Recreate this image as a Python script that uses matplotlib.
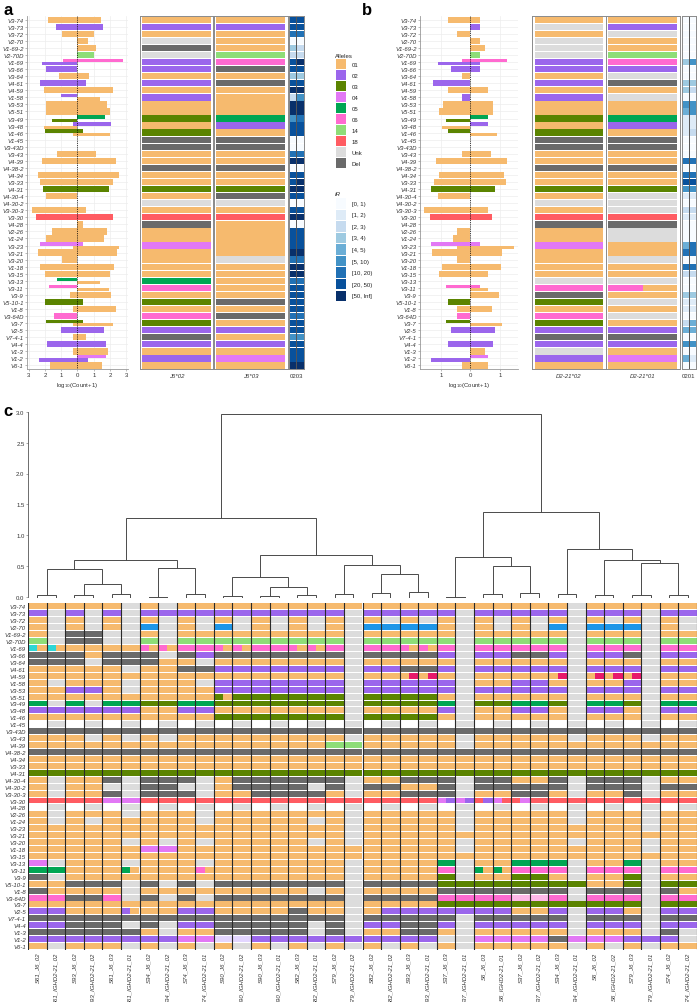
import matplotlib
matplotlib.use("Agg")
import matplotlib.pyplot as plt
from matplotlib.patches import Rectangle

plt.rcParams['font.family'] = ['Liberation Sans', 'DejaVu Sans']

W, H = 697, 1003
fig = plt.figure(figsize=(W / 100, H / 100), dpi=100)


def px_axes(x0, y0, x1, y1):
    return fig.add_axes([x0 / W, 1 - y1 / H, (x1 - x0) / W, (y1 - y0) / H])


genes = ["V3-74", "V3-73", "V3-72", "V2-70", "V1-69-2", "V2-70D", "V1-69", "V3-66", "V3-64", "V4-61",
         "V4-59", "V1-58", "V3-53", "V5-51", "V3-49", "V3-48", "V1-46", "V1-45", "V3-43D", "V3-43",
         "V4-39", "V4-38-2", "V4-34", "V3-33", "V4-31", "V4-30-4", "V4-30-2", "V3-30-3", "V3-30", "V4-28",
         "V2-26", "V1-24", "V3-23", "V3-21", "V3-20", "V1-18", "V3-15", "V3-13", "V3-11", "V3-9",
         "V5-10-1", "V1-8", "V3-64D", "V3-7", "V2-5", "V7-4-1", "V4-4", "V1-3", "V1-2", "V6-1"]

allele_names = ["01", "02", "03", "04", "05", "06", "14", "18", "Unk", "Del"]
allele_colors = ["#F6BA6E", "#9B66EC", "#5B8400", "#E278F5", "#00A653", "#FF6AD0", "#8EDD78", "#FF5C62",
                 "#DCDCDC", "#6A6A6A"]
code_allele = {"o": "01", "p": "02", "g": "03", "v": "04", "e": "05", "k": "06", "l": "14", "r": "18",
               "u": "Unk", "d": "Del"}
extra_colors = {"w": "#FFFFFF", "c": "#2ED6D6", "b": "#1E96E8", "m": "#E8196B", "f": "#E3D6FF",
                "q": "#FFB8E8"}

ir_labels = ["[0, 1)", "[1, 2)", "[2, 3)", "[3, 4)", "[4, 5)", "[5, 10)", "[10, 20)", "[20, 50)", "[50, Inf]"]
ir_colors = ["#F7FBFF", "#DEEBF7", "#C6DBEF", "#9ECAE1", "#6BAED6", "#4292C6", "#2171B5", "#08519C", "#08306B"]

# ---------------- panel a data ----------------
a_bars = {
    "V3-74": [("01", 1.8, 1.47)], "V3-73": [("02", 1.29, 1.56)], "V3-72": [("01", 0.93, 1.02)],
    "V2-70": [("01", 0, 0.62)], "V1-69-2": [("01", 0, 1.14)], "V2-70D": [("14", 0, 1.02)],
    "V1-69": [("06", 0.87, 2.78), ("02", 2.16, 0)], "V3-66": [("02", 1.95, 0)],
    "V3-64": [("01", 1.14, 0.73)], "V4-61": [("02", 2.28, 0.52)], "V4-59": [("01", 2.03, 2.16)],
    "V1-58": [("02", 1.02, 0), ("01", 0, 1.41)], "V3-53": [("01", 1.91, 1.83)], "V5-51": [("01", 1.91, 1.99)],
    "V3-49": [("05", 0, 1.68), ("03", 1.56, 0)], "V3-48": [("02", 0.27, 2.03), ("01", 2.03, 0)],
    "V1-46": [("03", 1.99, 0.31), ("01", 0.27, 1.99)], "V3-43": [("01", 1.24, 1.16)],
    "V4-39": [("01", 2.2, 2.34)], "V4-34": [("01", 2.41, 2.57)], "V3-33": [("01", 2.3, 2.2)],
    "V4-31": [("03", 2.14, 1.91)], "V4-30-4": [("01", 1.95, 0)], "V3-30-3": [("01", 2.8, 0.5)],
    "V3-30": [("18", 2.53, 2.16)], "V4-28": [("01", 0, 0.31)], "V2-26": [("01", 1.56, 1.83)],
    "V1-24": [("01", 1.91, 1.62)], "V3-23": [("04", 2.3, 0.31), ("01", 0.27, 2.55)],
    "V3-21": [("01", 2.43, 2.45)], "V3-20": [("01", 0.93, 0)], "V1-18": [("01", 2.28, 2.24)],
    "V3-15": [("01", 1.97, 1.99)], "V3-13": [("05", 1.24, 0), ("01", 0, 1.41)],
    "V3-11": [("06", 1.74, 0), ("01", 0, 1.95)], "V3-9": [("01", 0.46, 2.07)],
    "V5-10-1": [("03", 1.97, 0.31)], "V1-8": [("01", 0.27, 2.34)], "V3-64D": [("06", 1.45, 0)],
    "V3-7": [("03", 1.95, 0.31), ("01", 0.27, 2.16)], "V2-5": [("02", 1.04, 1.62)],
    "V7-4-1": [("01", 0.27, 0.5)], "V4-4": [("02", 1.85, 1.78)], "V1-3": [("01", 0.27, 1.89)],
    "V1-2": [("04", 0, 1.72), ("02", 2.39, 0.62)], "V6-1": [("01", 1.7, 1.51)],
}
a_hap_names = ["J6*02", "J6*03"]
a_hap1 = "o p o u d u p p o p o p o o g o g d d o o d o o g o u o r d o o v o o o o e k o g o k g p d p o p o".split()
a_hap2 = "o p o o o l k d o d o o o o e p o d d o o d o o g d u o r o o o o o u o o o o o d o d o p o p o v o".split()
a_ir_name = "0203"
a_ir1 = [7, 7, 6, 0, 3, 2, 7, 7, 3, 7, 8, 2, 8, 8, 5, 7, 7, 0, 0, 6, 8, 0, 7, 7, 8,
         7, 0, 7, 8, 0, 7, 7, 7, 8, 6, 8, 8, 6, 7, 7, 7, 7, 6, 7, 7, 5, 7, 7, 7, 8]
a_ir2 = [7, 7, 6, 0, 2, 2, 8, 7, 3, 7, 8, 5, 8, 8, 6, 7, 7, 0, 0, 6, 8, 0, 7, 8, 8,
         7, 0, 7, 8, 0, 7, 7, 7, 8, 6, 8, 8, 6, 7, 7, 7, 7, 6, 7, 7, 5, 7, 7, 7, 8]

# ---------------- panel b data ----------------
b_bars = {
    "V3-74": [("01", 0.76, 0.31)], "V3-73": [("02", 0, 0.31)], "V3-72": [("01", 0.45, 0)],
    "V2-70": [("01", 0, 0.31)], "V1-69-2": [("01", 0, 0.48)], "V2-70D": [("14", 0, 0.31)],
    "V1-69": [("06", 0.28, 1.24), ("02", 1.09, 0.31)], "V3-66": [("02", 0.68, 0.31)],
    "V3-64": [("01", 0.28, 0)], "V4-61": [("02", 1.27, 0)], "V4-59": [("01", 0.76, 0.61)],
    "V1-58": [("02", 0.28, 0)], "V3-53": [("01", 0.93, 0.78)], "V5-51": [("01", 1.06, 0.78)],
    "V3-49": [("05", 0, 0.61), ("03", 0.83, 0)], "V3-48": [("02", 0, 0.61), ("01", 0.97, 0)],
    "V1-46": [("03", 0.76, 0), ("01", 0, 0.91)], "V3-43": [("01", 0.28, 0.7)],
    "V4-39": [("01", 1.16, 1.26)], "V4-34": [("01", 1.06, 1.15)], "V3-33": [("01", 1.24, 1.22)],
    "V4-31": [("03", 1.33, 0.85)], "V4-30-4": [("01", 1.09, 0)], "V3-30-3": [("01", 1.57, 0.61)],
    "V3-30": [("18", 1.39, 0.72)], "V2-26": [("01", 0.47, 0)], "V1-24": [("01", 0.58, 0)],
    "V3-23": [("04", 1.34, 0.31), ("01", 0.47, 1.49)], "V3-21": [("01", 1.32, 1.09)],
    "V3-20": [("01", 0.47, 0)], "V1-18": [("01", 0.98, 1.05)], "V3-15": [("01", 1.06, 0.61)],
    "V3-11": [("06", 0.83, 0.31), ("01", 0, 0.61)], "V3-9": [("01", 0, 0.97)],
    "V5-10-1": [("03", 0.76, 0)], "V1-8": [("01", 0.47, 0.72)], "V3-64D": [("06", 0.47, 0)],
    "V3-7": [("03", 0.83, 0), ("01", 0, 1.09)], "V2-5": [("02", 0.68, 0.85)],
    "V4-4": [("02", 0.76, 0.78)], "V1-3": [("01", 0, 0.48)],
    "V1-2": [("04", 0, 0.61), ("02", 1.33, 0)], "V6-1": [("01", 0.28, 0.61)],
}
b_hap_names = ["D2-21*02", "D2-21*01"]
b_hap1 = "o u o u u u p p o p o p o o g o g d d o o d o o g o u o r d o o v o o o o u k d g o k g p d p u p o".split()
b_hap2 = "o p u o o l k p u d o u o o e p o d d o o d o o g u u u r d u u o o u o o u k/o o u o u o p d p o v o".split()
b_ir_name = "0201"
b_ir1 = [0, 0, 0, 0, 0, 0, 3, 0, 0, 3, 3, 0, 5, 4, 1, 1, 1, 0, 0, 0, 6, 0, 6, 7, 5,
         1, 0, 2, 1, 0, 0, 0, 4, 6, 0, 6, 2, 0, 0, 3, 1, 1, 0, 2, 4, 0, 5, 0, 4, 0]
b_ir2 = [0, 0, 0, 0, 0, 0, 5, 0, 0, 3, 2, 0, 5, 5, 1, 1, 2, 0, 0, 0, 6, 0, 6, 7, 5,
         1, 0, 2, 1, 0, 0, 0, 6, 6, 0, 6, 2, 0, 0, 3, 1, 1, 0, 4, 4, 0, 5, 0, 1, 0]

# ---------------- panel c data ----------------
c_samples = ["S61_J6_02", "S61_IGHD2-21_02", "S93_J6_02", "S93_IGHD2-21_02", "S61_J6_03", "S61_IGHD2-21_01",
             "S34_J6_02", "S34_IGHD2-21_02", "S74_J6_03", "S74_IGHD2-21_01", "S90_J6_02", "S90_IGHD2-21_02",
             "S90_J6_03", "S90_IGHD2-21_01", "S82_J6_03", "S82_IGHD2-21_01", "S79_J6_02", "S79_IGHD2-21_02",
             "S82_J6_02", "S82_IGHD2-21_02", "S93_J6_03", "S93_IGHD2-21_01", "S37_J6_03", "S37_IGHD2-21_01",
             "S6_J6_03", "S6_IGHD2-21_01", "S37_J6_02", "S37_IGHD2-21_02", "S34_J6_03", "S34_IGHD2-21_01",
             "S6_J6_02", "S6_IGHD2-21_02", "S79_J6_03", "S79_IGHD2-21_01", "S74_J6_02", "S74_IGHD2-21_02"]
# one string per gene: columns 1-11 | columns 12-36
c_rows_left = [
    "o o o o o u o u o o o",
    "p u p u p u p p p p p",
    "o u o u o u o u o u o",
    "o u o u o u b u o u b",
    "o u d d u u o u o o o",
    "l u d d u u l u l l l",
    "c/o c/o o o o o k/o k/o k k k/o",
    "d d d o d d d u d p d",
    "d d d u d d d o o u o",
    "o o o o o u o o d d p",
    "o o o o o o o o o o o",
    "o u o o o u o o o u p",
    "o o p p o u o o o o p",
    "o o o o o o o o o o g/o",
    "e u e u e e g g e e g",
    "p p p p p p o o p p o",
    "o o o o o o o o o o g",
    "w u w u w u w u w u w",
    "d d d d d d d d d d d",
    "o o o u o u o u o o o",
    "o o o o o o o o o o o",
    "d d d d d d d d d d d",
    "o o o o o o o o o o o",
    "o o o o o o o o o o o",
    "g g g g g g g g g g g",
    "o u o o d u d d d u o",
    "o u o o u u d d u u o",
    "o u o o d u d d d u o",
    "r r r r v v r r r r r",
    "w u w u w u w u w u w",
    "o u o o o u o o o u o",
    "o u o u o o o o o u o",
    "o o o o o o o o o o o",
    "o o o o o o o o o o o",
    "o o o o o u o u o u o",
    "o o o o o o v v o o o",
    "o o o o o o o o o o o",
    "v u o o o u o o o u o",
    "e e o o o e/o o o o k/o o",
    "d u o o o o o o o o o",
    "o o d d d u d u d u d",
    "d o o o o u o o o o o",
    "k k d d k u d u d u d",
    "o o o o o o o o o o o",
    "p p o o o p/o o o p p o",
    "d d d d d d d d d d d",
    "p p d d d u d u p p d",
    "d d d d d d o u o o d",
    "p p p p p p p p v v f",
    "o u o o o u o u o u o",
]
c_rows_right = [
    "o o o o o o o o o o o o o o o o o o u o o o o o o",
    "p p p p p p u p p p p p u p p p p p u p p p u p p",
    "u o u o u o u o u o u o u o u o u o u o u o u o u",
    "u o u o u o u b b b b o u o u o u b u b b b u o u",
    "o o o o o o u o o o o o u o o o o o u o o o u o o",
    "l l l l l l u l l l l l u l l l l l u l l l u l l",
    "k/o k k k/o k/o k u k k k/o k/o k u k k k k k u k k k u k k",
    "d d d d d d u d d d d p u p p d d p u p p d u p p",
    "o o o o o o u o o o o o u o o o o o u o o o u o o",
    "p p p p p p u p p d d p u p p p p p u p p p u p p",
    "o o o o o o u o o o/m o/m o u o o o o o/m u o/m o/m o/m u o o",
    "p p p p p p u p p p p p u o o p p o u o o p u o o",
    "p p p p p p u p p p p p u p p p p p u p p p u p p",
    "g g g g g g u g g g g o u o o o o o u o o o u o o",
    "g g g g g g u g g g g e u g g e e g u e e g u e e",
    "o o o o o o u o o o o p u o o p p o u p p o u p p",
    "g g g g g g u g g g g o u o o o o o u o o o u o o",
    "u w u w u w u w u w u w u w u w u w u w u w u w u",
    "d d d d d d d d d d d d d d d d d d d d d d d d d",
    "o o o o o o u o o o o o u o o o o o u o o o u o o",
    "o o o o o l l o o o o o u o o o o o o o o o o o o",
    "d d d d d d d d d d d d d d d d d d d d d d d d d",
    "o o o o o o o o o o o o o o o o o o o o o o o o o",
    "o o o o o o o o o o o o o o o o o o o o o o o o o",
    "g g g g g g g g g g g g g g g g g g g g g g g g g",
    "d d d d d d u o o d d d u d d o o d u d d d u o o",
    "d d d d u d u d d o o d u d d d d d u d d d u d d",
    "o d d d d o u o o d d d u o o d d o u o o d u o o",
    "r r r r r r r r r r r v/p v/p r/p v/r r/v r r r r r r r r r",
    "u w u w u w u w u w u w u w u w u w u w u w u w u",
    "o o o o o o u o o o o o u o o o o o u o o o u o o",
    "o o o o u o u o o o o o u o o o o o u o o o u o o",
    "o o o o o o u o o o o o u o o o o o o o o o u o o",
    "o o o o o o u o o o o o o o o o o o o o o o o o o",
    "o o o o u o u o o o o o u o o o o o u o o o u o o",
    "o o o o o o o o o o o o u o o o o o o o o o u o o",
    "o o o o o o o o o o o o o o o o o o o o o o o o o",
    "o o o o o o u o o o o e u o o e e e u o o e u o o",
    "o o o o o o u o o o o k u e/o e/o k k k u k k k u k k",
    "o o o o o o u o o o o g u o o g g o u o o g u o o",
    "d d d d d d u d d d d g g g g g g g g o o g u g g",
    "o o o o u o u o o o o d d d d d d d u d d d u d o",
    "d d d d d d u d d d d k k k k q q k u k k k u k k",
    "o o o o o o u o o o o g g g g g g g g g g g u g g",
    "o o o d o o u o p p p p p p p o o p u p p o u p p",
    "d d d d d d u d d d d d u d d d d d u d d d u d d",
    "d d d d u d u p p d d p u p p p p p u p p p u p p",
    "d d d d u d u o o d d o u o o o o o u o o o u d u",
    "f p p p p p p p p p p u u v v v v d v v v p p p u",
    "u o u o u o u o u o u o u o o o o o u o u o u o o",
]
c_merges = [(0, 1, 0.03), (2, 3, 0.03), (4, 5, 0.04), (37, 38, 0.2), (36, 39, 0.44), (6, 7, 0.0),
            (8, 9, 0.04), (41, 42, 0.47), (40, 43, 0.59), (10, 11, 0.01), (12, 13, 0.015), (14, 15, 0.03),
            (46, 47, 0.16), (45, 48, 0.32), (16, 17, 0.04), (18, 19, 0.06), (20, 21, 0.075), (51, 52, 0.37),
            (50, 53, 0.51), (49, 54, 0.68), (44, 55, 1.28), (22, 23, 0.0), (24, 25, 0.04), (26, 27, 0.05),
            (58, 59, 0.49), (57, 60, 0.65), (28, 29, 0.04), (30, 31, 0.02), (32, 33, 0.02), (34, 35, 0.03),
            (64, 65, 0.55), (63, 66, 0.59), (62, 67, 0.77), (61, 68, 1.38), (56, 69, 2.97)]

FS = 4.3
allele_map = dict(zip(allele_names, allele_colors))


def code_color(code):
    if code in code_allele:
        return allele_map[code_allele[code]]
    return extra_colors[code]


def bar_panel(ax, bars, xlim, ticks):
    n = len(genes)
    ax.set_xlim(*xlim)
    ax.set_ylim(n + 0.5, 0.5)
    for i in range(1, n + 1):
        ax.axhline(i, color="#EDEDED", lw=0.5, zorder=0)
    for t in ticks:
        ax.axvline(t, color="#EDEDED", lw=0.5, zorder=0)
    for i, g in enumerate(genes):
        entries = bars.get(g, [])
        y = i + 1
        if len(entries) == 1:
            al, L, R = entries[0]
            ax.barh(y, L + R, left=-L, height=0.9, color=allele_map[al], lw=0, zorder=2)
        elif len(entries) == 2:
            for k, (al, L, R) in enumerate(entries):
                ax.barh(y - 0.225 + 0.45 * k, L + R, left=-L, height=0.45, color=allele_map[al], lw=0,
                        zorder=2)
    ax.axvline(0, color="black", lw=0.6, ls=(0, (1, 1.2)), zorder=3)
    ax.set_yticks(range(1, n + 1))
    ax.set_yticklabels(genes, fontsize=FS, style="italic", color="#333333")
    ax.set_xticks(ticks)
    ax.set_xticklabels([str(abs(t)) for t in ticks], fontsize=FS, color="#333333")
    ax.tick_params(length=1.5, width=0.4, color="#888888", pad=1)
    for s in ["top", "right"]:
        ax.spines[s].set_visible(False)
    for s in ["left", "bottom"]:
        ax.spines[s].set_color("#999999")
        ax.spines[s].set_linewidth(0.6)
    ax.set_xlabel("log$_{10}$(Count+1)", fontsize=FS, labelpad=1.5, color="#333333")


def hap_panel(x0, x1, y0, y1, col, name):
    ax = px_axes(x0, y0, x1, y1)
    n = len(genes)
    ax.set_xlim(0, 1)
    ax.set_ylim(n + 0.5, 0.5)
    for i, code in enumerate(col):
        parts = code.split("/")
        w = 0.92 / len(parts)
        for k, p in enumerate(parts):
            ax.add_patch(Rectangle((0.04 + k * w, i + 1 - 0.45), w, 0.9, color=code_color(p), lw=0))
    ax.set_xticks([0.5])
    ax.set_xticklabels([name], fontsize=FS, style="italic", color="#333333")
    ax.set_yticks([])
    ax.tick_params(length=0, pad=3)
    for s in ax.spines.values():
        s.set_color("#8A8A8A")
        s.set_linewidth(0.7)
    return ax


def ir_panel(x0, x1, y0, y1, c1, c2, name):
    ax = px_axes(x0, y0, x1, y1)
    n = len(genes)
    ax.set_xlim(0, 2)
    ax.set_ylim(n + 0.5, 0.5)
    for i in range(n):
        ax.add_patch(Rectangle((0, i + 1 - 0.45), 1, 0.9, color=ir_colors[c1[i]], lw=0))
        ax.add_patch(Rectangle((1, i + 1 - 0.45), 1, 0.9, color=ir_colors[c2[i]], lw=0))
    ax.axvline(1, color="#555555", lw=0.7)
    ax.set_xticks([1])
    ax.set_xticklabels([name], fontsize=FS, color="#333333")
    ax.set_yticks([])
    ax.tick_params(length=0, pad=3)
    for s in ax.spines.values():
        s.set_color("#8A8A8A")
        s.set_linewidth(0.7)


TOP, BOT = 17.2, 370.0

axa = px_axes(27, TOP, 128, BOT)
bar_panel(axa, a_bars, (-3.1, 3.1), [-3, -2, -1, 0, 1, 2, 3])
hap_panel(139.5, 213.5, TOP, BOT, a_hap1, a_hap_names[0])
hap_panel(213.5, 287.5, TOP, BOT, a_hap2, a_hap_names[1])
ir_panel(289, 303.5, TOP, BOT, a_ir1, a_ir2, a_ir_name)

axb = px_axes(420, TOP, 518, BOT)
bar_panel(axb, b_bars, (-1.72, 1.62), [-1, 0, 1])
hap_panel(532, 605.5, TOP, BOT, b_hap1, b_hap_names[0])
hap_panel(605.5, 680, TOP, BOT, b_hap2, b_hap_names[1])
ir_panel(681.5, 696, TOP, BOT, b_ir1, b_ir2, b_ir_name)

axl = px_axes(330, 40, 400, 310)
axl.set_xlim(330, 400)
axl.set_ylim(310, 40)
axl.axis("off")
axl.text(335, 56, "Alleles", fontsize=FS, va="center", ha="left", color="#222222")
for k, (nm, colr) in enumerate(zip(allele_names, allele_colors)):
    yc = 65 + 11.03 * k
    axl.add_patch(Rectangle((336, yc - 4.8), 10, 9.6, color=colr, lw=0))
    axl.text(352, yc, nm, fontsize=FS, va="center", ha="left", color="#222222")
axl.text(335, 194, "IR", fontsize=FS, va="center", ha="left", color="#222222", style="italic")
for k, (nm, colr) in enumerate(zip(ir_labels, ir_colors)):
    yc = 204.3 + 11.55 * k
    axl.add_patch(Rectangle((336, yc - 5.2), 10, 10.4, color=colr, lw=0))
    axl.text(352, yc, nm, fontsize=FS, va="center", ha="left", color="#222222")

ncol = len(c_samples)
axd = px_axes(28, 413, 697, 597.5)
axd.set_xlim(0, ncol)
axd.set_ylim(0, 3.0)
pos = {i: i + 0.5 for i in range(ncol)}
hgt = {i: 0.0 for i in range(ncol)}
for k, (a, b, h) in enumerate(c_merges):
    node = ncol + k
    xa, xb = pos[a], pos[b]
    axd.plot([xa, xa, xb, xb], [hgt[a], h, h, hgt[b]], color="#4A4A4A", lw=0.7, clip_on=False,
             solid_joinstyle="miter")
    pos[node] = (xa + xb) / 2
    hgt[node] = h
axd.set_xticks([])
axd.set_yticks([0, 0.5, 1.0, 1.5, 2.0, 2.5, 3.0])
axd.set_yticklabels(["0.0", "0.5", "1.0", "1.5", "2.0", "2.5", "3.0"], fontsize=FS, color="#333333")
axd.tick_params(length=1.5, width=0.4, color="#666666", pad=1)
for s in ["top", "right", "bottom"]:
    axd.spines[s].set_visible(False)
axd.spines["left"].set_color("#555555")
axd.spines["left"].set_linewidth(0.6)
axd.spines["left"].set_bounds(0, 3.0)
axd.patch.set_alpha(0)

axh = px_axes(28, 604, 697, 950.5)
nrow = len(genes)
axh.set_xlim(0, ncol)
axh.set_ylim(nrow, 0)
for i in range(nrow):
    cells = c_rows_left[i].split() + c_rows_right[i].split()
    for j, code in enumerate(cells[:ncol]):
        parts = code.split("/")
        w = 1.0 / len(parts)
        for k, p in enumerate(parts):
            axh.add_patch(Rectangle((j + k * w, i + 0.07), w, 0.86, color=code_color(p), lw=0))
for j in range(ncol + 1):
    axh.axvline(j, color="#2A2A2A", lw=0.8)
axh.set_yticks([i + 0.5 for i in range(nrow)])
axh.set_yticklabels(genes, fontsize=FS, style="italic", color="#333333")
axh.set_xticks([j + 0.5 for j in range(ncol)])
axh.set_xticklabels(c_samples, fontsize=FS, style="italic", rotation=90, color="#333333")
axh.tick_params(length=0, pad=1.5)
for s in axh.spines.values():
    s.set_visible(False)

fig.text(3 / W, 1 - 3 / H, "a", fontsize=12, fontweight="bold", va="top", ha="left")
fig.text(362 / W, 1 - 3 / H, "b", fontsize=12, fontweight="bold", va="top", ha="left")
fig.text(3 / W, 1 - 404 / H, "c", fontsize=12, fontweight="bold", va="top", ha="left")

fig.savefig("out.png", dpi=100)
